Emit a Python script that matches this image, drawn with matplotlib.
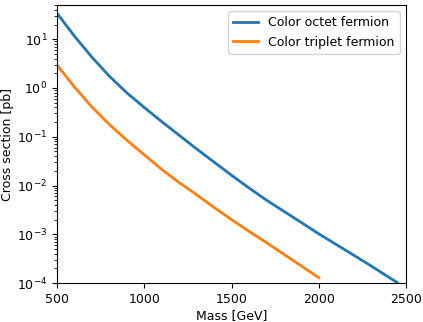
import matplotlib
matplotlib.use('Agg')
import matplotlib.pyplot as plt

plt.rcParams['font.size'] = 9

# 读取自图中的数据（质量 GeV，截面 pb）
mass_octet = [500, 600, 700, 800, 900, 1000, 1100, 1200, 1300, 1400, 1500, 1600, 1700,
              1800, 1900, 2000, 2100, 2200, 2300, 2400, 2450]
xsec_octet = [34, 11.5, 4.27, 1.74, 0.794, 0.398, 0.204, 0.107, 0.0562, 0.0302, 0.0162,
              0.00891, 0.00501, 0.00295, 0.00174, 0.00102, 0.000617, 0.000372, 0.000224,
              0.000132, 0.000102]

mass_triplet = [500, 600, 700, 800, 900, 1000, 1100, 1200, 1300, 1400, 1500, 1600, 1700,
                1800, 1900, 2000]
xsec_triplet = [2.95, 1.05, 0.407, 0.178, 0.0851, 0.0427, 0.0214, 0.0115, 0.00646, 0.00355,
                0.00200, 0.00115, 0.000676, 0.000389, 0.000224, 0.000129]

fig = plt.figure(figsize=(4.23, 3.22), dpi=100)
ax = fig.add_axes([0.135, 0.121, 0.825, 0.863])

ax.plot(mass_octet, xsec_octet, lw=2, label='Color octet fermion')
ax.plot(mass_triplet, xsec_triplet, lw=2, label='Color triplet fermion')

ax.set_yscale('log')
ax.set_xlim(500, 2500)
ax.set_ylim(1e-4, 50)
ax.set_xticks([500, 1000, 1500, 2000, 2500])
ax.set_xlabel('Mass [GeV]', labelpad=2)
ax.set_ylabel('Cross section [pb]', labelpad=2)
ax.legend(loc='upper right')

plt.savefig('out.png', dpi=100)
